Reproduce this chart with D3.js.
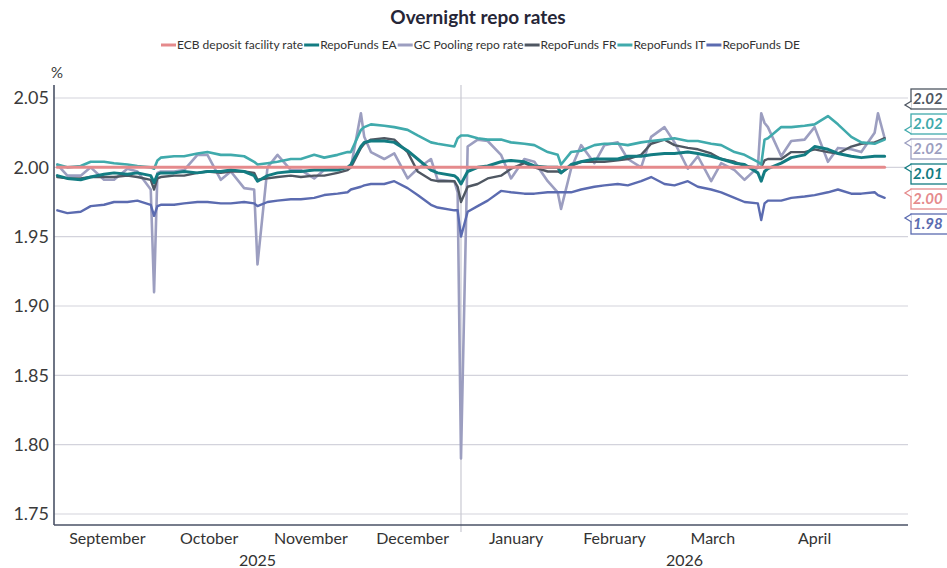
<!DOCTYPE html>
<html>
<head>
<meta charset="utf-8">
<script src="https://cdn.jsdelivr.net/npm/d3@7"></script>
<style>
  html, body { margin: 0; padding: 0; background: #ffffff; }
  svg { display: block; font-family: Lato, "Open Sans", sans-serif; }
</style>
</head>
<body>
<svg id="chart" width="947" height="568"></svg>
<script>
// ---------------- DATA ----------------
const title = "Overnight repo rates";
const yTicks = [1.75, 1.80, 1.85, 1.90, 1.95, 2.00, 2.05];
const monthLabels = ["September", "October", "November", "December", "January", "February", "March", "April"];
const monthStarts = ["2025-09-01", "2025-10-01", "2025-11-01", "2025-12-01", "2026-01-01", "2026-02-01", "2026-03-01", "2026-04-01", "2026-05-01"];
const yearLabels = ["2025", "2026"];

const dates = [
  "2025-09-01","2025-09-04","2025-09-08","2025-09-11","2025-09-15","2025-09-18","2025-09-22","2025-09-25","2025-09-29","2025-09-30",
  "2025-10-01","2025-10-02","2025-10-06","2025-10-09","2025-10-13","2025-10-16","2025-10-20","2025-10-23","2025-10-27","2025-10-30","2025-10-31",
  "2025-11-03","2025-11-06","2025-11-10","2025-11-13","2025-11-17","2025-11-20","2025-11-24","2025-11-27","2025-11-28",
  "2025-12-01","2025-12-02","2025-12-04","2025-12-08","2025-12-11","2025-12-15","2025-12-18","2025-12-22","2025-12-24","2025-12-29","2025-12-30","2025-12-31",
  "2026-01-02","2026-01-05","2026-01-08","2026-01-12","2026-01-15","2026-01-19","2026-01-22","2026-01-26","2026-01-29","2026-01-30",
  "2026-02-02","2026-02-05","2026-02-09","2026-02-12","2026-02-16","2026-02-19","2026-02-23","2026-02-26",
  "2026-03-02","2026-03-05","2026-03-09","2026-03-12","2026-03-16","2026-03-19","2026-03-23","2026-03-26","2026-03-30","2026-03-31",
  "2026-04-01","2026-04-02","2026-04-06","2026-04-09","2026-04-13","2026-04-16","2026-04-20","2026-04-23","2026-04-27","2026-04-30",
  "2026-05-04","2026-05-05","2026-05-07"
];

// ECB deposit facility rate (flat over the whole period)
const ecbDates = ["2025-09-01", "2026-05-07"];
const ecbValues = [2.00, 2.00];

const repoEA = [
  1.994,1.992,1.991,1.993,1.995,1.996,1.995,1.996,1.994,1.989,
  1.995,1.996,1.996,1.997,1.996,1.997,1.997,1.998,1.997,1.994,1.990,
  1.994,1.996,1.997,1.997,1.998,1.998,1.998,2.000,2.002,
  2.015,2.018,2.019,2.019,2.018,2.012,2.006,1.998,1.996,1.994,1.992,1.988,
  1.997,2.000,2.001,2.004,2.005,2.004,2.001,2.000,2.000,1.996,
  2.002,2.004,2.006,2.006,2.006,2.008,2.008,2.009,
  2.010,2.010,2.011,2.010,2.008,2.006,2.003,2.002,1.996,1.990,
  1.997,1.999,2.003,2.007,2.009,2.015,2.013,2.010,2.008,2.007,
  2.008,2.008,2.008
];

const gcPooling = [
  2.002,1.994,1.994,2.000,1.991,1.991,1.999,1.997,1.984,1.910,
  1.996,1.997,1.997,1.998,2.009,2.009,1.991,1.997,1.985,1.984,1.930,
  2.000,2.009,1.998,1.998,1.992,1.998,1.999,2.000,2.000,
  2.039,2.022,2.011,2.006,2.010,1.992,1.999,2.006,1.991,1.990,1.982,1.790,
  2.015,2.020,2.019,2.009,1.992,2.006,2.004,1.990,1.982,1.970,
  1.999,2.016,2.003,2.016,2.018,2.006,2.000,2.022,
  2.029,2.018,1.999,2.008,1.990,2.003,1.998,1.991,2.000,2.039,
  2.032,2.029,2.008,2.019,2.020,2.029,2.004,2.014,2.013,2.011,
  2.025,2.039,2.021
];

const repoFR = [
  1.993,1.992,1.992,1.993,1.993,1.993,1.994,1.993,1.991,1.984,
  1.992,1.993,1.994,1.994,1.996,1.997,1.996,1.997,1.997,1.996,1.991,
  1.992,1.993,1.994,1.993,1.994,1.994,1.996,1.998,2.000,
  2.014,2.017,2.020,2.021,2.020,2.011,1.997,1.991,1.990,1.990,1.986,1.975,
  1.986,1.988,1.992,1.994,1.999,2.003,2.000,1.997,1.997,1.996,
  2.001,2.004,2.004,2.004,2.005,2.006,2.009,2.017,
  2.020,2.016,2.014,2.013,2.010,2.006,2.004,2.001,2.000,2.000,
  2.005,2.006,2.006,2.011,2.011,2.013,2.011,2.010,2.015,2.017,
  2.018,2.019,2.021
];

const repoIT = [
  2.002,2.000,2.001,2.004,2.004,2.003,2.002,2.001,2.000,1.999,
  2.005,2.007,2.008,2.008,2.010,2.011,2.009,2.009,2.008,2.004,2.002,
  2.003,2.004,2.006,2.006,2.009,2.007,2.009,2.011,2.011,
  2.027,2.029,2.031,2.030,2.029,2.027,2.023,2.018,2.017,2.015,2.021,2.023,
  2.023,2.021,2.020,2.020,2.018,2.017,2.016,2.011,2.009,2.002,
  2.011,2.012,2.016,2.017,2.017,2.016,2.018,2.019,
  2.020,2.021,2.019,2.019,2.017,2.016,2.011,2.009,2.004,2.002,
  2.020,2.021,2.029,2.029,2.030,2.031,2.037,2.031,2.022,2.018,
  2.017,2.018,2.020
];

const repoDE = [
  1.969,1.967,1.968,1.972,1.973,1.975,1.975,1.976,1.973,1.965,
  1.972,1.973,1.973,1.974,1.975,1.975,1.974,1.974,1.975,1.974,1.972,
  1.975,1.976,1.977,1.977,1.978,1.980,1.981,1.982,1.984,
  1.986,1.987,1.988,1.988,1.990,1.985,1.980,1.973,1.971,1.969,1.969,1.950,
  1.968,1.972,1.976,1.983,1.982,1.981,1.981,1.982,1.982,1.982,
  1.982,1.984,1.986,1.987,1.988,1.987,1.990,1.993,
  1.988,1.987,1.990,1.986,1.984,1.982,1.978,1.975,1.974,1.962,
  1.974,1.976,1.976,1.978,1.979,1.980,1.982,1.984,1.981,1.981,
  1.982,1.980,1.978
];

const seriesNames = ["ECB deposit facility rate", "RepoFunds EA", "GC Pooling repo rate", "RepoFunds FR", "RepoFunds IT", "RepoFunds DE"];
const seriesColors = ["#e58a8c", "#137c82", "#9c9ec0", "#4f5762", "#40aaac", "#5b6bb0"];
const drawOrder = [2, 5, 3, 4, 1, 0];          // bottom -> top
const labelOrder = [3, 4, 2, 1, 0, 5];         // right-hand value boxes, top -> bottom

// ---------------- CHART ----------------
const svg = d3.select("#chart");
const parse = d3.utcParse("%Y-%m-%d");

const plot = { left: 54, right: 908, top: 85, bottom: 525 };

const x = d3.scaleUtc()
  .domain([parse("2025-08-31"), parse("2026-05-14")])
  .range([plot.left, plot.right]);
const y = d3.scaleLinear()
  .domain([1.75, 2.05])
  .range([514, 98]);

const seriesData = [
  ecbDates.map((d, i) => ({ date: parse(d), value: ecbValues[i] })),
  dates.map((d, i) => ({ date: parse(d), value: repoEA[i] })),
  dates.map((d, i) => ({ date: parse(d), value: gcPooling[i] })),
  dates.map((d, i) => ({ date: parse(d), value: repoFR[i] })),
  dates.map((d, i) => ({ date: parse(d), value: repoIT[i] })),
  dates.map((d, i) => ({ date: parse(d), value: repoDE[i] }))
];

// Title
svg.append("text")
  .attr("x", 478).attr("y", 24)
  .attr("text-anchor", "middle")
  .attr("font-size", 19).attr("font-weight", 700)
  .attr("fill", "#262637")
  .text(title);

// Legend
const legend = svg.append("g");
let lx = 0;
seriesNames.forEach((name, i) => {
  const g = legend.append("g").attr("transform", `translate(${lx},0)`);
  g.append("line").attr("x1", 0).attr("x2", 15).attr("y1", 0).attr("y2", 0)
    .attr("stroke", seriesColors[i]).attr("stroke-width", 3);
  const t = g.append("text").attr("x", 16).attr("y", 4)
    .attr("font-size", 12).attr("fill", "#333").text(name);
  lx += 16 + t.node().getComputedTextLength() + 1;
});
legend.attr("transform", `translate(${481 - lx / 2},45)`);

// Gridlines
svg.append("g").selectAll("line").data(yTicks).join("line")
  .attr("x1", plot.left).attr("x2", plot.right)
  .attr("y1", d => y(d)).attr("y2", d => y(d))
  .attr("stroke", "#d3d3dc").attr("stroke-width", 1.2);

// Year separator
const sepX = x(parse("2025-12-31"));
svg.append("line")
  .attr("x1", sepX).attr("x2", sepX).attr("y1", plot.top).attr("y2", 532)
  .attr("stroke", "#c9c9d2").attr("stroke-width", 1.2);

// Y tick labels
svg.append("g").selectAll("text").data(yTicks).join("text")
  .attr("x", 49).attr("y", d => y(d)).attr("dy", "0.35em")
  .attr("text-anchor", "end").attr("font-size", 18).attr("fill", "#3a3a3a")
  .text(d => d.toFixed(2));
svg.append("text").attr("x", 51).attr("y", 78)
  .attr("font-size", 15).attr("fill", "#3a3a3a").text("%");

// Series lines
const line = d3.line().x(d => x(d.date)).y(d => y(d.value));
const widths = [3, 3, 2.6, 2.4, 2.6, 2.4];
const lines = svg.append("g").attr("fill", "none")
  .attr("stroke-linejoin", "round").attr("stroke-linecap", "round");
drawOrder.forEach(i => {
  lines.append("path").datum(seriesData[i])
    .attr("d", line)
    .attr("stroke", seriesColors[i])
    .attr("stroke-width", widths[i]);
});

// Axes lines
svg.append("line").attr("x1", plot.left).attr("x2", plot.left)
  .attr("y1", plot.top).attr("y2", plot.bottom)
  .attr("stroke", "#4a5266").attr("stroke-width", 1.6);
svg.append("line").attr("x1", plot.left).attr("x2", plot.right)
  .attr("y1", plot.bottom).attr("y2", plot.bottom)
  .attr("stroke", "#4a5266").attr("stroke-width", 1.6);

// Month labels
const monthG = svg.append("g");
monthLabels.forEach((m, i) => {
  const a = x(parse(monthStarts[i])), b = x(parse(monthStarts[i + 1]));
  monthG.append("text")
    .attr("x", (a + b) / 2).attr("y", 544)
    .attr("text-anchor", "middle").attr("font-size", 16).attr("fill", "#333")
    .text(m);
});
// Year labels
const yearSpans = [[plot.left, sepX], [sepX, plot.right]];
yearLabels.forEach((yl, i) => {
  svg.append("text")
    .attr("x", (yearSpans[i][0] + yearSpans[i][1]) / 2).attr("y", 566)
    .attr("text-anchor", "middle").attr("font-size", 16).attr("fill", "#333")
    .text(yl);
});

// Right-hand value boxes
const boxG = svg.append("g");
labelOrder.forEach((si, k) => {
  const data = seriesData[si];
  const last = data[data.length - 1];
  const cy = 99 + k * 25;
  const bx = 911, bh = 20, bw = 40;
  const vy = y(last.value);
  const py = Math.max(cy - 6, Math.min(cy + 6, vy));
  boxG.append("rect")
    .attr("x", bx).attr("y", cy - bh / 2).attr("width", bw).attr("height", bh)
    .attr("fill", "#fff").attr("stroke", seriesColors[si]).attr("stroke-width", 1.3);
  boxG.append("path")
    .attr("d", `M${bx + 0.6},${py - 4} L${bx - 6},${py} L${bx + 0.6},${py + 4}`)
    .attr("fill", "#fff").attr("stroke", seriesColors[si]).attr("stroke-width", 1.3);
  boxG.append("text")
    .attr("x", bx + 2).attr("y", cy).attr("dy", "0.36em")
    .attr("font-size", 15).attr("font-style", "italic").attr("font-weight", 700)
    .attr("fill", seriesColors[si])
    .text(last.value.toFixed(2));
});
</script>
</body>
</html>
